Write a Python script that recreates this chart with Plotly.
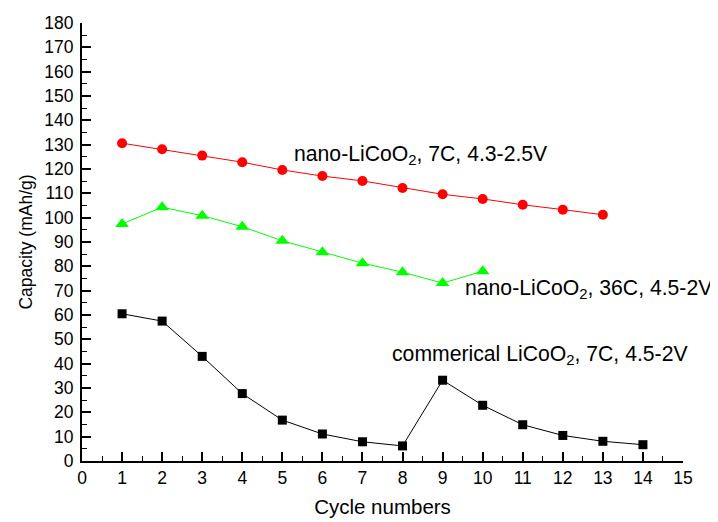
import plotly.graph_objects as go

cycles_red = [1, 2, 3, 4, 5, 6, 7, 8, 9, 10, 11, 12, 13]
cap_red = [130.6, 128.1, 125.5, 122.8, 119.6, 117.1, 115.1, 112.2, 109.6, 107.7, 105.3, 103.3, 101.2]

cycles_green = [1, 2, 3, 4, 5, 6, 7, 8, 9, 10]
cap_green = [97.4, 104.3, 100.8, 96.3, 90.5, 85.8, 81.3, 77.6, 73.1, 78.0]

cycles_black = [1, 2, 3, 4, 5, 6, 7, 8, 9, 10, 11, 12, 13, 14]
cap_black = [60.5, 57.5, 43.0, 27.7, 16.8, 11.1, 7.9, 6.2, 33.2, 22.9, 14.9, 10.5, 8.1, 6.7]

x_ticks = list(range(0, 16))
y_ticks = list(range(0, 181, 10))

labels = [
    ("nano-LiCoO<sub>2</sub>, 7C, 4.3-2.5V", 5.24, 125.8),
    ("nano-LiCoO<sub>2</sub>, 36C, 4.5-2V", 9.52, 70.5),
    ("commerical LiCoO<sub>2</sub>, 7C, 4.5-2V", 7.69, 43.6),
]

FONT = "Liberation Sans, Arial, sans-serif"

fig = go.Figure()
fig.add_trace(go.Scatter(x=cycles_black, y=cap_black, mode="lines+markers",
                         line=dict(color="black", width=1),
                         marker=dict(symbol="square", size=9, color="black"),
                         showlegend=False))
fig.add_trace(go.Scatter(x=cycles_green, y=cap_green, mode="lines+markers",
                         line=dict(color="#00FF00", width=1),
                         marker=dict(symbol="triangle-up", size=12, color="#00FF00"),
                         showlegend=False))
fig.add_trace(go.Scatter(x=cycles_red, y=cap_red, mode="lines+markers",
                         line=dict(color="#FF0000", width=1),
                         marker=dict(symbol="circle", size=10, color="#FF0000"),
                         showlegend=False))

for text, x, y in labels:
    fig.add_annotation(x=x, y=y, xref="x", yref="y", text=text, showarrow=False,
                       xanchor="left", yanchor="middle",
                       font=dict(family=FONT, size=21.2, color="black"))

axis_common = dict(
    showgrid=False, zeroline=False, showline=True, linecolor="black", linewidth=2,
    ticks="inside", ticklen=9, tickwidth=1.5, tickcolor="black",
    tickfont=dict(family=FONT, size=17.5, color="black"),
    mirror=False, automargin=False,
)

fig.update_xaxes(range=[0, 15], tickvals=x_ticks, ticktext=[str(v) for v in x_ticks],
                 minor=dict(ticks="inside", ticklen=5, tickwidth=1, tickcolor="black", dtick=0.5),
                 title=dict(text="Cycle numbers", font=dict(family=FONT, size=20.5, color="black"), standoff=13),
                 ticklabelstandoff=0,
                 **axis_common)
fig.update_yaxes(range=[0, 180], tickvals=y_ticks, ticktext=[str(v) for v in y_ticks],
                 minor=dict(ticks="inside", ticklen=5, tickwidth=1, tickcolor="black", dtick=5),
                 title=dict(text="Capacity (mAh/g)", font=dict(family=FONT, size=17.5, color="black"), standoff=7),
                 ticklabelstandoff=3,
                 **axis_common)

# page body has an 8px margin, so the figure is offset by 8px; sizes account for that
fig.update_layout(width=710, height=514, plot_bgcolor="white", paper_bgcolor="white",
                  margin=dict(l=74, r=35, t=15, b=61), showlegend=False)

fig.write_html("out.html")
